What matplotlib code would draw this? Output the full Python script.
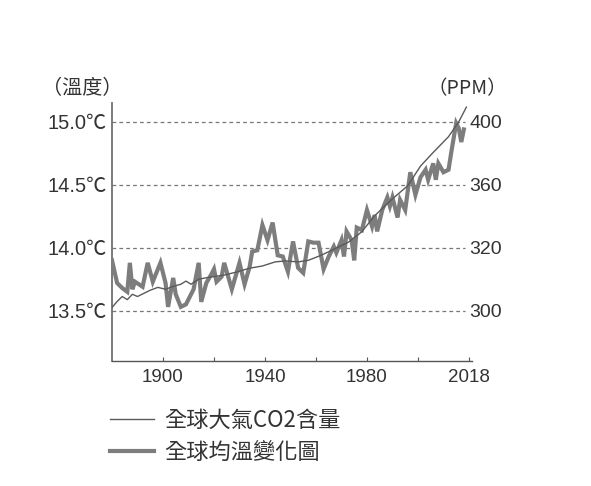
import numpy as np
import matplotlib
matplotlib.use("Agg")
import matplotlib.pyplot as plt
from matplotlib.lines import Line2D

plt.rcParams['font.family'] = ['Liberation Sans', 'Noto Sans CJK TC', 'DejaVu Sans']

# ---- data ----
temp_years = [1880, 1882, 1884, 1886, 1887, 1888, 1889, 1892, 1894, 1896, 1899, 1901, 1902,
              1904, 1905, 1907, 1909, 1912, 1914, 1915, 1917, 1919, 1920, 1921, 1923, 1924,
              1927, 1930, 1932, 1934, 1935, 1937, 1939, 1941, 1943, 1945, 1947, 1949, 1951,
              1953, 1955, 1957, 1959, 1961, 1963, 1965, 1967, 1968, 1970, 1971, 1972, 1974,
              1975, 1976, 1978, 1979, 1980, 1982, 1983, 1984, 1986, 1988, 1989, 1990, 1992,
              1993, 1995, 1997, 1999, 2001, 2003, 2004, 2006, 2007, 2008, 2010, 2012, 2013,
              2015, 2016, 2017, 2018]
temp_values = [13.90, 13.72, 13.68, 13.65, 13.88, 13.67, 13.73, 13.69, 13.88, 13.73, 13.88, 13.72, 13.53,
               13.76, 13.63, 13.53, 13.55, 13.67, 13.88, 13.57, 13.72, 13.79, 13.83, 13.73, 13.77, 13.88,
               13.67, 13.88, 13.71, 13.85, 13.97, 13.98, 14.18, 14.06, 14.20, 13.94, 13.93, 13.81, 14.05,
               13.84, 13.80, 14.05, 14.04, 14.04, 13.83, 13.93, 14.01, 13.96, 14.06, 13.93, 14.13, 14.06,
               13.90, 14.16, 14.14, 14.22, 14.30, 14.17, 14.26, 14.13, 14.30, 14.40, 14.33, 14.40, 14.24,
               14.38, 14.30, 14.60, 14.42, 14.56, 14.62, 14.54, 14.67, 14.54, 14.67, 14.60, 14.62, 14.75,
               14.99, 14.95, 14.84, 14.94]

co2_years = [1880, 1882, 1884, 1886, 1888, 1890, 1895, 1898, 1901, 1904, 1907, 1909, 1911, 1914,
             1918, 1924, 1929, 1934, 1939, 1944, 1948, 1953, 1957, 1962, 1967, 1973, 1978, 1983,
             1990, 1996, 2001, 2006, 2012, 2016, 2019]
co2_ppm = [301.0, 302.9, 304.5, 303.5, 305.2, 304.5, 306.5, 307.4, 306.8, 307.7, 308.4, 309.4, 308.4, 310.0,
           310.6, 311.3, 312.3, 313.5, 314.2, 315.5, 315.8, 315.5, 316.0, 317.6, 319.5, 323.8, 330.2, 340.3,
           351.1, 359.4, 371.9, 380.6, 390.6, 400.0, 409.4]

temp_ticks = [13.5, 14.0, 14.5, 15.0]
temp_labels = ['13.5℃', '14.0℃', '14.5℃', '15.0℃']
ppm_ticks = [300, 320, 360, 400]
ppm_labels = ['300', '320', '360', '400']
year_ticks = [1900, 1920, 1940, 1960, 1980, 2000, 2020]
year_labels = ['1900', '', '1940', '', '1980', '', '2018']

legend_labels = ['全球大氣CO2含量', '全球均溫變化圖']

# ---- scale mapping ppm ticks onto temperature gridlines (piecewise linear) ----
_p = [ppm_ticks[0] - 100] + ppm_ticks + [ppm_ticks[-1] + 100]
_t = ([temp_ticks[0] - 100 * (temp_ticks[1] - temp_ticks[0]) / (ppm_ticks[1] - ppm_ticks[0])]
      + temp_ticks
      + [temp_ticks[-1] + 100 * (temp_ticks[-1] - temp_ticks[-2]) / (ppm_ticks[-1] - ppm_ticks[-2])])

def fwd(v):
    return np.interp(v, _p, _t)

def inv(v):
    return np.interp(v, _t, _p)

TEXT = '#333333'
LINE = '#7d7d7d'

fig = plt.figure(figsize=(5.91, 4.86), dpi=100)
ax = fig.add_axes([112 / 591, 125 / 486, 360 / 591, 258 / 486])

YMIN, YMAX = 13.1, 15.15
ax.set_xlim(1880, 2021.2)
ax.set_ylim(YMIN, YMAX)

for t in temp_ticks:
    ax.axhline(t, xmin=0, xmax=0.98, color='#777777', lw=0.9, ls=(0, (3, 2.5)), zorder=1)

ax.plot(temp_years, temp_values, color=LINE, lw=3.0, solid_joinstyle='miter', zorder=3)

ax2 = ax.twinx()
ax2.set_yscale('function', functions=(fwd, inv))
ax2.set_ylim(inv(YMIN), inv(YMAX))
ax2.plot(co2_years, co2_ppm, color='#5a5a5a', lw=1.0, zorder=4)

ax.set_yticks(temp_ticks)
ax.set_yticklabels(temp_labels)
ax.tick_params(axis='y', length=0, pad=4, labelsize=14.5, labelcolor=TEXT)
ax2.set_yticks(ppm_ticks)
ax2.set_yticklabels(ppm_labels)
ax2.yaxis.set_minor_locator(matplotlib.ticker.NullLocator())
ax2.tick_params(axis='y', length=0, pad=-2, labelsize=14, labelcolor=TEXT)

ax.set_xticks(year_ticks)
ax.set_xticklabels(year_labels)
ax.tick_params(axis='x', direction='in', length=3, width=0.8, color='#555555',
               pad=6, labelsize=13.5, labelcolor=TEXT)

for a in (ax, ax2):
    a.spines['top'].set_visible(False)
    a.spines['right'].set_visible(False)
ax2.spines['left'].set_visible(False)
ax2.spines['bottom'].set_visible(False)
ax.spines['left'].set_color('#707070')
ax.spines['left'].set_linewidth(1.3)
ax.spines['bottom'].set_color('#555555')
ax.spines['bottom'].set_linewidth(1.0)

fig.text(82 / 591, 1 - 89 / 486, '（溫度）', ha='center', va='center', fontsize=14.5,
         color=TEXT, family=['Noto Sans CJK TC'])
fig.text(467 / 591, 1 - 89 / 486, '（PPM）', ha='center', va='center', fontsize=14,
         color=TEXT, family=['Noto Sans CJK TC', 'Liberation Sans'])

handles = [Line2D([], [], color='#5a5a5a', lw=1.0), Line2D([], [], color=LINE, lw=3.0)]
fig.legend(handles, legend_labels, loc='upper left', bbox_to_anchor=(110 / 591, 1 - 409 / 486),
           frameon=False, borderpad=0, borderaxespad=0, handlelength=2.0, handletextpad=0.45,
           labelspacing=0.4, prop={'family': ['Noto Sans CJK TC'], 'size': 16},
           labelcolor=TEXT)

fig.savefig('out.png', dpi=100)
